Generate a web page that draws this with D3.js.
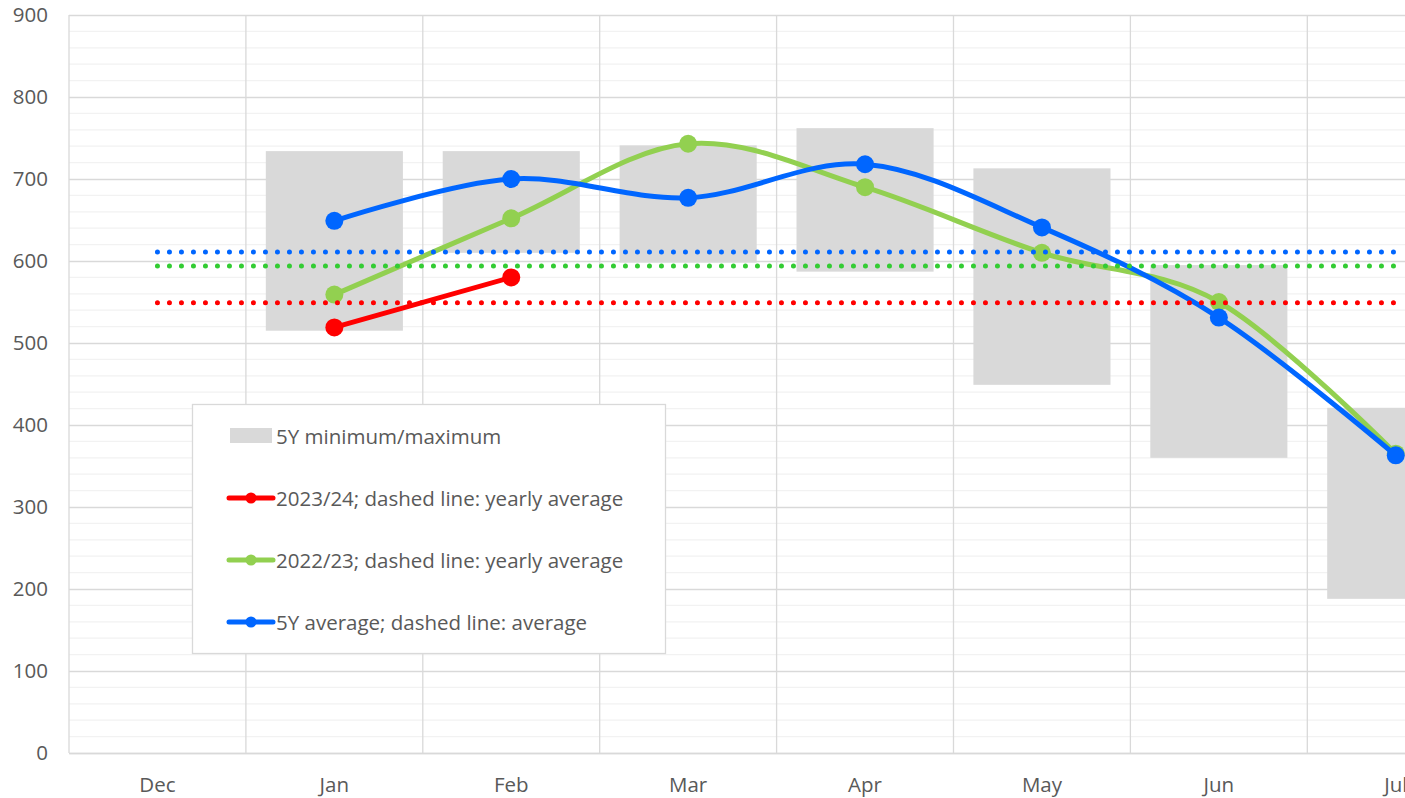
<!DOCTYPE html>
<html>
<head>
<meta charset="utf-8">
<script src="https://cdn.jsdelivr.net/npm/d3@7"></script>
<style>
  body { margin: 0; background: #fff; }
  svg { display: block; font-family: "Open Sans", sans-serif; }
</style>
</head>
<body>
<svg id="chart"></svg>
<script>
// categories and values
var months = ["Dec", "Jan", "Feb", "Mar", "Apr", "May", "Jun", "Jul"];
var rangeMin = [null, 515, 610, 598, 587, 449, 360, 188];
var rangeMax = [null, 734, 734, 741, 762, 713, 595, 421];
var season2324 = [null, 519, 580, null, null, null, null, null];
var season2223 = [null, 559, 652, 743, 690, 610, 550, 365];
var avg5y = [null, 649, 700, 677, 718, 641, 531, 363];
// dashed (dotted) reference levels
var avgLevels = [
  { name: "2023/24", value: 549, color: "#ff0000" },
  { name: "2022/23", value: 594, color: "#33cc33" },
  { name: "5Y", value: 611, color: "#0066ff" }
];
var yTicks = [0, 100, 200, 300, 400, 500, 600, 700, 800, 900];
var legendItems = [
  { label: "5Y minimum/maximum", type: "bar", color: "#d9d9d9" },
  { label: "2023/24; dashed line: yearly average", type: "line", color: "#ff0000" },
  { label: "2022/23; dashed line: yearly average", type: "line", color: "#92d050" },
  { label: "5Y average; dashed line: average", type: "line", color: "#0066ff" }
];

var width = 1405, height = 798;
var plot = { left: 69, top: 15, bandWidth: 176.9, bottom: 753 };

var svg = d3.select("#chart").attr("width", width).attr("height", height);

var x = d3.scaleBand()
    .domain(months)
    .range([plot.left, plot.left + plot.bandWidth * months.length]);
var y = d3.scaleLinear().domain([0, 900]).range([plot.bottom, plot.top]);
var xc = function(m) { return x(m) + x.bandwidth() / 2; };
var plotRight = plot.left + plot.bandWidth * months.length;

// minor gridlines
var minor = d3.range(0, 901, 20).filter(function(v) { return v % 100 != 0; });
svg.append("g").selectAll("line").data(minor).enter().append("line")
    .attr("x1", plot.left).attr("x2", plotRight)
    .attr("y1", function(d) { return y(d); }).attr("y2", function(d) { return y(d); })
    .attr("stroke", "#f2f2f2").attr("stroke-width", 1.3);

// major gridlines + y axis
var yAxis = d3.axisLeft(y).tickValues(yTicks).tickSize(-(plotRight - plot.left)).tickPadding(21);
var gy = svg.append("g").attr("transform", "translate(" + plot.left + ",0)").call(yAxis);
gy.select(".domain").remove();
gy.selectAll(".tick line").attr("stroke", "#d9d9d9").attr("stroke-width", 1.3);
gy.selectAll(".tick text").attr("fill", "#595959").attr("font-size", "20.5px")
    .attr("font-family", "Open Sans, sans-serif");

// vertical gridlines between categories
var bounds = months.map(function(m) { return x(m); });
svg.append("g").selectAll("line").data(bounds).enter().append("line")
    .attr("x1", function(d) { return d; }).attr("x2", function(d) { return d; })
    .attr("y1", plot.top).attr("y2", plot.bottom)
    .attr("stroke", "#d9d9d9").attr("stroke-width", 1.3);

// x axis labels
var xAxis = d3.axisBottom(x).tickSize(0).tickPadding(24);
var gx = svg.append("g").attr("transform", "translate(0," + plot.bottom + ")").call(xAxis);
gx.select(".domain").attr("stroke", "#d9d9d9").attr("stroke-width", 1.3);
gx.selectAll(".tick text").attr("fill", "#595959").attr("font-size", "20.5px")
    .attr("font-family", "Open Sans, sans-serif");

// 5Y min/max floating bars
var barW = x.bandwidth() * 0.775;
var barData = months.map(function(m, i) { return { m: m, lo: rangeMin[i], hi: rangeMax[i] }; })
    .filter(function(d) { return d.lo != null; });
svg.append("g").selectAll("rect").data(barData).enter().append("rect")
    .attr("x", function(d) { return xc(d.m) - barW / 2; })
    .attr("width", barW)
    .attr("y", function(d) { return y(d.hi); })
    .attr("height", function(d) { return y(d.lo) - y(d.hi); })
    .attr("fill", "#d9d9d9");

// series lines
function drawSeries(values, color, curve) {
  var pts = months.map(function(m, i) { return { m: m, v: values[i] }; })
      .filter(function(d) { return d.v != null; });
  var line = d3.line()
      .x(function(d) { return xc(d.m); })
      .y(function(d) { return y(d.v); })
      .curve(curve);
  svg.append("path").datum(pts)
      .attr("d", line)
      .attr("fill", "none")
      .attr("stroke", color)
      .attr("stroke-width", 5)
      .attr("stroke-linecap", "round");
  svg.append("g").selectAll("circle").data(pts).enter().append("circle")
      .attr("cx", function(d) { return xc(d.m); })
      .attr("cy", function(d) { return y(d.v); })
      .attr("r", 9)
      .attr("fill", color);
}
drawSeries(season2324, "#ff0000", d3.curveLinear);
drawSeries(season2223, "#92d050", d3.curveCardinal.tension(0));
drawSeries(avg5y, "#0066ff", d3.curveCardinal.tension(0));

// dotted average lines (Dec to Jul)
svg.append("g").selectAll("line").data(avgLevels).enter().append("line")
    .attr("x1", xc("Dec")).attr("x2", xc("Jul"))
    .attr("y1", function(d) { return y(d.value); })
    .attr("y2", function(d) { return y(d.value); })
    .attr("stroke", function(d) { return d.color; })
    .attr("stroke-width", 5)
    .attr("stroke-linecap", "round")
    .attr("stroke-dasharray", "0 12");

// legend
var legend = svg.append("g").attr("transform", "translate(192,404)");
legend.append("rect")
    .attr("x", 0.5).attr("y", 0.5).attr("width", 473).attr("height", 249)
    .attr("fill", "#fff").attr("stroke", "#d9d9d9").attr("stroke-width", 1.3);
var items = legend.selectAll("g.item").data(legendItems).enter().append("g")
    .attr("class", "item")
    .attr("transform", function(d, i) { return "translate(0," + (32 + i * 62) + ")"; });
items.filter(function(d) { return d.type == "bar"; }).append("rect")
    .attr("x", 38).attr("y", -8).attr("width", 42).attr("height", 15)
    .attr("fill", function(d) { return d.color; });
items.filter(function(d) { return d.type == "line"; }).append("line")
    .attr("x1", 37).attr("x2", 81).attr("y1", 0).attr("y2", 0)
    .attr("stroke", function(d) { return d.color; })
    .attr("stroke-width", 5).attr("stroke-linecap", "round");
items.filter(function(d) { return d.type == "line"; }).append("circle")
    .attr("cx", 59).attr("cy", 0).attr("r", 5.5)
    .attr("fill", function(d) { return d.color; });
items.append("text")
    .attr("x", 84).attr("y", 7.5)
    .attr("fill", "#595959").attr("font-size", "20.5px")
    .text(function(d) { return d.label; });
</script>
</body>
</html>
